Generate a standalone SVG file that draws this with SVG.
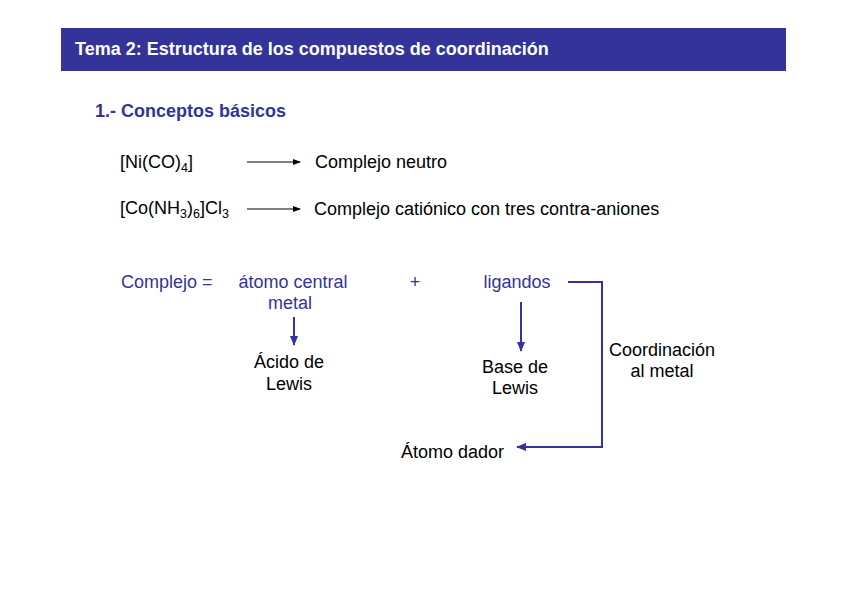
<svg xmlns="http://www.w3.org/2000/svg" width="848" height="599" viewBox="0 0 848 599">
<style>
text{font-family:"Liberation Sans",Arial,sans-serif;font-size:18px;fill:#000}
.b{fill:#333399}
.c{text-anchor:middle}
.s{font-size:12.5px}
.blk{stroke:#000;stroke-width:1.2;fill:none}
.blu{stroke:#333399;stroke-width:2;fill:none}
</style>
<defs>
<marker id="ak" markerWidth="8" markerHeight="8" refX="7" refY="4" orient="auto" markerUnits="userSpaceOnUse"><path d="M0,1 L8,4 L0,7 Z" fill="#000"/></marker>
<marker id="ab" markerWidth="10" markerHeight="10" refX="9" refY="5" orient="auto" markerUnits="userSpaceOnUse"><path d="M0,1 L10,5 L0,9 Z" fill="#333399"/></marker>
</defs>
<rect width="848" height="599" fill="#fff"/>
<g id="header">
<rect x="61" y="28" width="725" height="43" fill="#333399"/>
<text x="75" y="55" style="font-size:18px;font-weight:bold;fill:#fff">Tema 2: Estructura de los compuestos de coordinación</text>
</g>
<g id="section"><text x="95" y="117" class="b" style="font-weight:bold">1.- Conceptos básicos</text></g>
<g id="ni"><text x="120" y="168">[Ni(CO)<tspan dy="4" class="s">4</tspan><tspan dy="-4">]</tspan></text></g>
<g id="neutro"><text x="315" y="168">Complejo neutro</text></g>
<g id="co"><text x="120" y="214">[Co(NH<tspan dy="4" class="s">3</tspan><tspan dy="-4">)</tspan><tspan dy="4" class="s">6</tspan><tspan dy="-4">]Cl</tspan><tspan dy="4" class="s">3</tspan></text></g>
<g id="cationico"><text x="314" y="215">Complejo catiónico con tres contra-aniones</text></g>
<g id="complejo"><text x="121" y="288" class="b">Complejo =</text></g>
<g id="atomo"><text x="293" y="288" class="b c">átomo central</text><text x="290" y="309" class="b c">metal</text></g>
<g id="plus"><text x="415" y="288" class="b c">+</text></g>
<g id="ligandos"><text x="517" y="288" class="b c">ligandos</text></g>
<g id="acido"><text x="289" y="368" class="c">Ácido de</text><text x="289" y="390" class="c">Lewis</text></g>
<g id="base"><text x="515" y="373" class="c">Base de</text><text x="515" y="394" class="c">Lewis</text></g>
<g id="coord"><text x="662" y="356" class="c">Coordinación</text><text x="662" y="377" class="c">al metal</text></g>
<g id="dador"><text x="401" y="458">Átomo dador</text></g>
<g id="connectors">
<line x1="247" y1="162" x2="300" y2="162" class="blk" marker-end="url(#ak)"/>
<line x1="247" y1="209" x2="300" y2="209" class="blk" marker-end="url(#ak)"/>
<line x1="294" y1="317" x2="294" y2="345" class="blu" marker-end="url(#ab)"/>
<line x1="521" y1="302" x2="521" y2="351" class="blu" marker-end="url(#ab)"/>
<polyline points="568,282 602,282 602,447 517,447" class="blu" marker-end="url(#ab)"/>
</g>
</svg>
